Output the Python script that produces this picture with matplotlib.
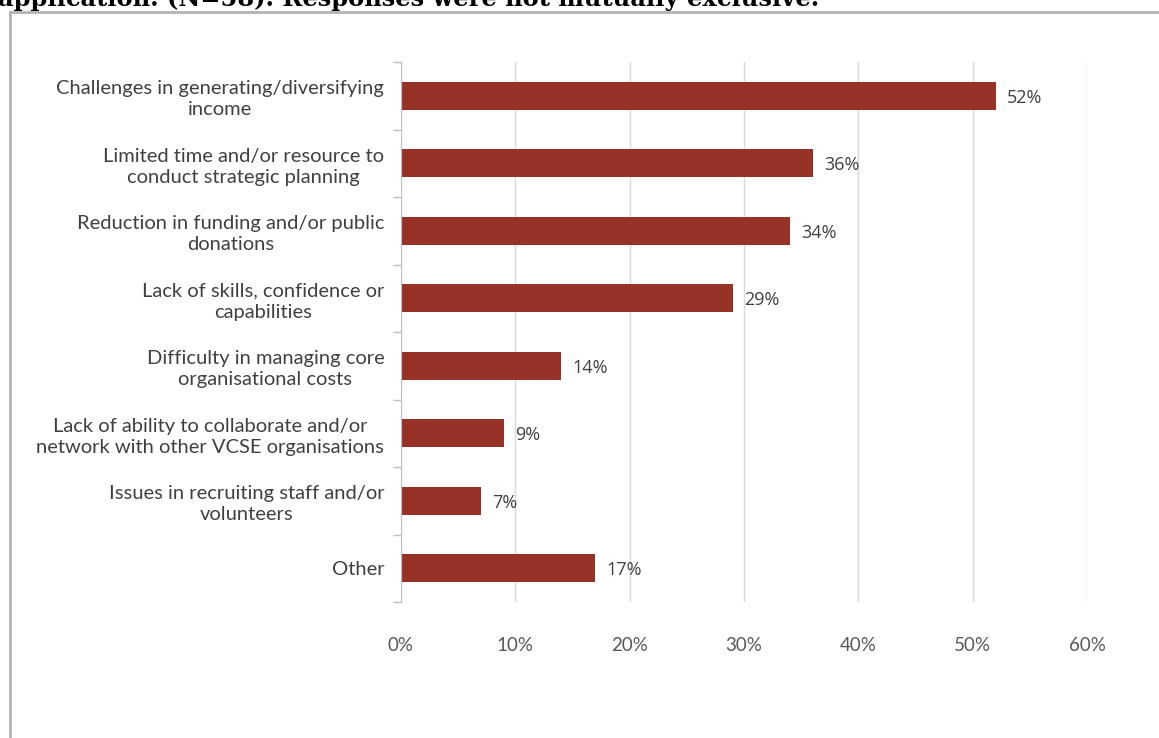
import matplotlib.pyplot as plt
from matplotlib.patches import Rectangle

categories = [
    "Challenges in generating/diversifying\nincome",
    "Limited time and/or resource to\nconduct strategic planning",
    "Reduction in funding and/or public\ndonations",
    "Lack of skills, confidence or\ncapabilities",
    "Difficulty in managing core\norganisational costs",
    "Lack of ability to collaborate and/or\nnetwork with other VCSE organisations",
    "Issues in recruiting staff and/or\nvolunteers",
    "Other",
]
percents = [52, 36, 34, 29, 14, 9, 7, 17]
xticks = [0, 10, 20, 30, 40, 50, 60]

bar_color = "#963326"
text_color = "#404040"

fig = plt.figure(figsize=(11.59, 7.38), dpi=100)

# caption line from above, cut off by the page edge
fig.text(-0.002, 1 - 6 / 738, "application. (N=58). Responses were not mutually exclusive.",
         family="DejaVu Serif", fontweight="bold", fontsize=17.4, color="black",
         va="baseline", ha="left")

# chart border
fig.patches.append(Rectangle((10 / 1159, -0.1), 1.2, 1 - 12 / 738 + 0.1,
                             transform=fig.transFigure, fill=False,
                             edgecolor="#b3b3b3", linewidth=2))

ax = fig.add_axes([401 / 1159, 1 - 602 / 738, 686 / 1159, 540 / 738])

y = list(range(len(categories)))
ax.barh(y, percents, height=0.41, color=bar_color, zorder=3)
for yi, v in zip(y, percents):
    ax.text(v + 1.0, yi + 0.03, f"{v}%", va="center", ha="left",
            family="Open Sans", fontsize=13, color=text_color)

ax.set_ylim(len(categories) - 0.5, -0.5)
ax.set_xlim(0, 60)
ax.set_xticks(xticks)
ax.set_xticklabels([f"{t}%" for t in xticks], family="Lato", fontsize=13.5, color="#595959")
ax.tick_params(axis="x", length=0, pad=25)

ax.set_yticks(y)
ax.set_yticklabels(categories, family="Lato", fontsize=14.5, color=text_color,
                   multialignment="center", linespacing=1.3)
ax.tick_params(axis="y", which="major", length=0, pad=12)
ax.set_yticks([i - 0.5 for i in range(len(categories) + 1)], minor=True)
ax.tick_params(axis="y", which="minor", length=6, color="#bfbfbf", width=1)

ax.grid(axis="x", color="#d9d9d9", linewidth=1, zorder=0)
for s in ["top", "right", "bottom"]:
    ax.spines[s].set_visible(False)
ax.spines["left"].set_color("#bfbfbf")
ax.spines["left"].set_zorder(4)

fig.savefig("out.png", dpi=100)
